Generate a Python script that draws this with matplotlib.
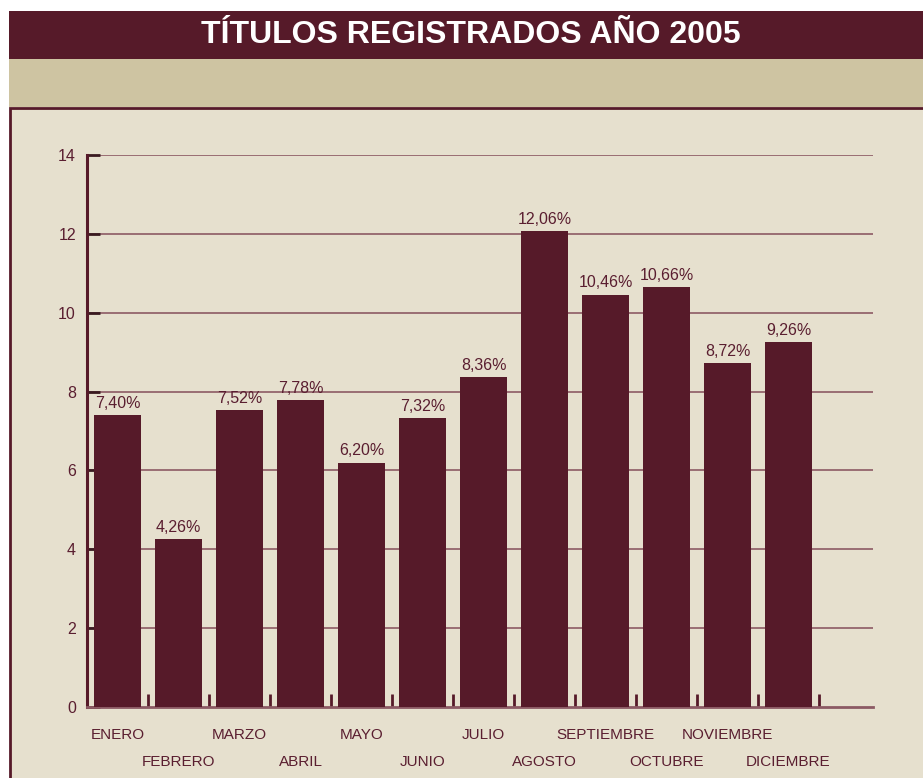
import matplotlib
matplotlib.use("Agg")
import matplotlib.pyplot as plt
from matplotlib.patches import Rectangle
from matplotlib.transforms import blended_transform_factory

plt.rcParams['font.family'] = ['Liberation Sans', 'DejaVu Sans']

title = "TÍTULOS REGISTRADOS AÑO 2005"
months = ["ENERO", "FEBRERO", "MARZO", "ABRIL", "MAYO", "JUNIO", "JULIO",
          "AGOSTO", "SEPTIEMBRE", "OCTUBRE", "NOVIEMBRE", "DICIEMBRE"]
values = [7.40, 4.26, 7.52, 7.78, 6.20, 7.32, 8.36, 12.06, 10.46, 10.66, 8.72, 9.26]
yticks = [0, 2, 4, 6, 8, 10, 12, 14]

MAROON = "#561a29"
TAN = "#cec4a2"
PANEL = "#e6e0ce"
GRID = "#8c5a64"
TEXT = "#5a1e30"

W, H = 923, 778
fig = plt.figure(figsize=(W / 100, H / 100), dpi=100)
fig.patch.set_facecolor("white")

def fx(px):
    return px / W

def fy(py):
    return 1 - py / H

# header bands
fig.patches.append(Rectangle((fx(9), fy(59)), fx(923 - 9), (59 - 11) / H,
                             transform=fig.transFigure, facecolor=MAROON, edgecolor="none", zorder=-10))
fig.patches.append(Rectangle((fx(9), fy(107)), fx(923 - 9), (107 - 59) / H,
                             transform=fig.transFigure, facecolor=TAN, edgecolor="none", zorder=-10))
# panel
fig.patches.append(Rectangle((fx(10), fy(800)), fx(940), (800 - 108) / H,
                             transform=fig.transFigure, facecolor=PANEL, edgecolor=MAROON,
                             linewidth=2.0, zorder=-10))
fig.text(fx(471), fy(35), title, color="white", fontsize=23, fontweight="bold",
         ha="center", va="center")

ax = fig.add_axes([fx(87), fy(707), fx(873 - 87), (707 - 155) / H])
ax.set_zorder(5)
ax.set_facecolor("none")

x = list(range(len(months)))
bars = ax.bar(x, values, width=0.77, color=MAROON, zorder=3)
ax.set_xlim(-0.5, -0.5 + (873 - 87) / 61.0)
ax.set_ylim(0, 14)

for v in yticks[1:]:
    ax.axhline(v, color=GRID, linewidth=1.2, zorder=1)

ax.bar_label(bars, labels=[f"{v:.2f}".replace(".", ",") + "%" for v in values],
             padding=3, color=TEXT, fontsize=11.5)

ax.set_yticks(yticks)
ax.set_yticklabels([str(t) for t in yticks], color=TEXT, fontsize=11.5)
ax.tick_params(axis="y", direction="in", length=9.5, width=2, color="#3a1a20", pad=8)

ax.set_xticks([i - 0.5 for i in x] + [len(x) - 0.5])
ax.set_xticklabels([])
ax.tick_params(axis="x", direction="in", length=9.5, width=2, color=MAROON)

trans = blended_transform_factory(ax.transData, ax.transAxes)
for i, m in enumerate(months):
    yy = -0.0507 if i % 2 == 0 else -0.0996
    ax.text(i, yy, m, transform=trans, ha="center", va="center", color=TEXT, fontsize=11)

for s in ["top", "right"]:
    ax.spines[s].set_visible(False)
ax.spines["left"].set_color(MAROON)
ax.spines["left"].set_linewidth(2.2)
ax.spines["bottom"].set_color(GRID)
ax.spines["bottom"].set_linewidth(2)

fig.savefig("out.png", dpi=100, facecolor=fig.get_facecolor())
